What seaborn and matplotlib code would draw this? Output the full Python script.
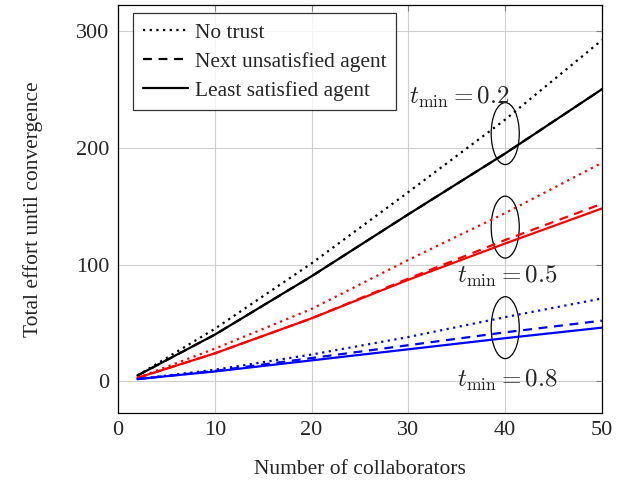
import numpy as np
import pandas as pd
import matplotlib
matplotlib.use("Agg")
import matplotlib.pyplot as plt
import seaborn as sns
from matplotlib.lines import Line2D
from matplotlib.patches import Ellipse

# values
collaborators = [2, 10, 20, 30, 40, 50]

# t_min = 0.2 (black)
no_trust_02 = [5, 45, 101, 162, 224, 292]
next_unsat_02 = [5, 40, 90, 143, 195, 250]
least_sat_02 = [5, 40, 90, 143, 195, 250]

# t_min = 0.5 (red)
no_trust_05 = [3, 28, 62, 104, 144, 187]
next_unsat_05 = [3, 24, 54, 88, 121, 152]
least_sat_05 = [3, 24, 54, 87, 118, 148]

# t_min = 0.8 (blue)
no_trust_08 = [2, 10, 23, 38, 55, 71]
next_unsat_08 = [2, 9, 20, 31, 42, 52]
least_sat_08 = [2, 8.5, 18, 27.5, 37, 46]

methods = ["No trust", "Next unsatisfied agent", "Least satisfied agent"]
tmins = ["0.2", "0.5", "0.8"]

series = {
    ("0.2", "No trust"): no_trust_02,
    ("0.2", "Next unsatisfied agent"): next_unsat_02,
    ("0.2", "Least satisfied agent"): least_sat_02,
    ("0.5", "No trust"): no_trust_05,
    ("0.5", "Next unsatisfied agent"): next_unsat_05,
    ("0.5", "Least satisfied agent"): least_sat_05,
    ("0.8", "No trust"): no_trust_08,
    ("0.8", "Next unsatisfied agent"): next_unsat_08,
    ("0.8", "Least satisfied agent"): least_sat_08,
}

rows = []
for (tm, meth), vals in series.items():
    for x, y in zip(collaborators, vals):
        rows.append({"n": x, "effort": y, "tmin": tm, "method": meth})
df = pd.DataFrame(rows)

sns.set_style("white")
plt.rcParams["font.family"] = ["Liberation Serif", "DejaVu Serif"]
plt.rcParams["mathtext.fontset"] = "cm"

colors = {"0.2": "black", "0.5": "red", "0.8": "blue"}
styles = {"No trust": (0, (1, 2)), "Next unsatisfied agent": (0, (4, 3)),
          "Least satisfied agent": "-"}

fig = plt.figure(figsize=(6.3, 4.84), dpi=100)
ax = fig.add_axes([0.1873, 0.1467, 0.7683, 0.8430])

for tm in tmins:
    for meth in methods:
        sub = df[(df["tmin"] == tm) & (df["method"] == meth)]
        sns.lineplot(data=sub, x="n", y="effort", ax=ax, color=colors[tm],
                     linestyle=styles[meth], linewidth=1.6, legend=False)

ax.set_xlim(0, 50)
ax.set_ylim(-27, 322)
ax.set_xticks([0, 10, 20, 30, 40, 50])
ax.set_yticks([0, 100, 200, 300])
ax.grid(True, color="#d0d0d0", linewidth=0.8)
ax.set_axisbelow(True)
ax.tick_params(direction="in", top=True, right=True, length=4, color="#808080",
               labelsize=16, pad=6)
for s in ax.spines.values():
    s.set_color("black")
    s.set_linewidth(0.9)

ax.set_xlabel("Number of collaborators", fontsize=15.5, labelpad=14)
ax.set_ylabel("Total effort until convergence", fontsize=15.5, labelpad=24)

# ellipses marking the groups at n = 40
for cy in [212, 132, 46]:
    ax.add_patch(Ellipse((40, cy), width=2.9, height=53, fill=False,
                         edgecolor="black", linewidth=0.9))

ax.text(35.3, 243, r"$t_{\min} = 0.2$", fontsize=18, ha="center", va="center")
ax.text(40.2, 90, r"$t_{\min} = 0.5$", fontsize=18, ha="center", va="center")
ax.text(40.2, 1, r"$t_{\min} = 0.8$", fontsize=18, ha="center", va="center")

handles = [Line2D([], [], color="black", linestyle=styles[m], linewidth=1.6)
           for m in methods]
leg = ax.legend(handles, methods, loc="upper left", fontsize=15.4,
                frameon=True, fancybox=False, edgecolor="black",
                handlelength=2.1, handletextpad=0.35, borderpad=0.45,
                labelspacing=0.42, borderaxespad=0,
                bbox_to_anchor=(0.031, 0.980))
leg.get_frame().set_linewidth(0.9)

fig.savefig("out.png", dpi=100)
